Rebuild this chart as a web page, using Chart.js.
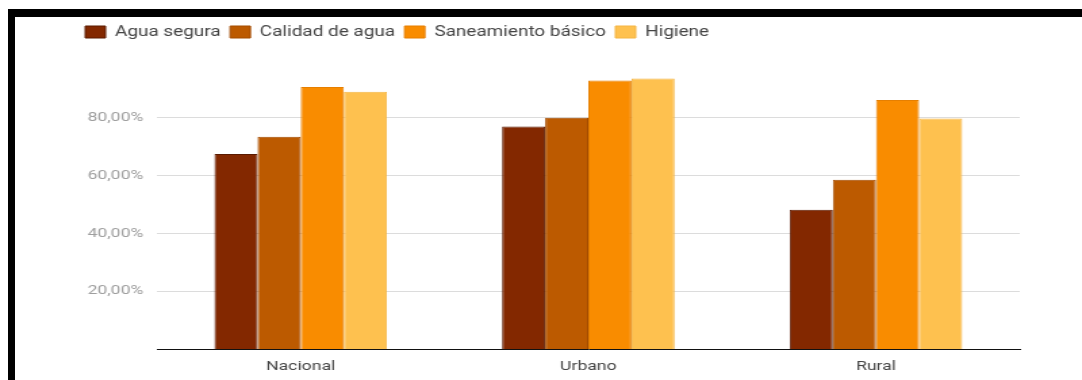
<!DOCTYPE html>
<html>
<head>
<meta charset="utf-8">
<script src="https://cdn.jsdelivr.net/npm/chart.js@4.4.1/dist/chart.umd.min.js"></script>
<style>
  html, body { margin: 0; padding: 0; background: #fff; }
  #wrap { position: relative; width: 1082px; height: 380px; overflow: hidden; }
  #c { position: absolute; left: 0; top: 0; }
  /* black frame around the screenshot */
  #frame {
    position: absolute; left: 8px; top: 9px; right: -10px; bottom: -10px;
    border-top: 8px solid #000; border-left: 7px solid #000;
    pointer-events: none;
  }
</style>
</head>
<body>
<div id="wrap">
  <canvas id="c" width="800" height="380" style="width:1082px;height:380px"></canvas>
  <div id="frame"></div>
</div>
<script>
// data
const categories = ['Nacional', 'Urbano', 'Rural'];
const seriesNames = ['Agua segura', 'Calidad de agua', 'Saneamiento básico', 'Higiene'];
const aguaSegura = [67.5, 77.0, 48.2];
const calidadAgua = [73.4, 80.0, 58.6];
const saneamiento = [90.7, 92.9, 86.2];
const higiene = [89.0, 93.6, 79.8];
const yTicks = [20, 40, 60, 80];

const fillColors = ['#832800', '#bc5a00', '#f98c00', '#fec14f'];
const edgeColors = ['#5a1a00', '#a34c00', '#e67f00', '#f4b544'];

const FONT = 'Roboto, "Liberation Sans", Arial, sans-serif';
const LEGEND_GAP = 11;

// extra room under the legend
const legendGap = {
    id: 'legendGap',
    beforeUpdate(chart) {
        const lg = chart.legend;
        if (lg && !lg._gapPatched) {
            const fit = lg.fit;
            lg.fit = function() {
                fit.call(this);
                this.height += LEGEND_GAP;
            };
            lg._gapPatched = true;
        }
    }
};

const values = [aguaSegura, calidadAgua, saneamiento, higiene];

new Chart(document.getElementById('c'), {
    type: 'bar',
    data: {
        labels: categories,
        datasets: seriesNames.map((name, i) => ({
            label: name,
            data: values[i],
            backgroundColor: fillColors[i],
            borderColor: edgeColors[i],
            borderWidth: 1,
            categoryPercentage: 0.6,
            barPercentage: 1.0
        }))
    },
    options: {
        responsive: false,
        devicePixelRatio: 1,
        animation: false,
        layout: {
            padding: { left: 56, right: 46, top: 18, bottom: 6 }
        },
        scales: {
            x: {
                afterFit: function(scale) {
                    scale.height = 25;
                },
                grid: { display: false, drawTicks: false },
                border: { display: true, color: '#111', width: 1 },
                ticks: {
                    color: '#444',
                    padding: 10,
                    font: { family: FONT, size: 13 }
                }
            },
            y: {
                min: 0,
                max: 100,
                afterBuildTicks: function(scale) {
                    scale.ticks = yTicks.map(v => ({ value: v }));
                },
                afterFit: function(scale) {
                    scale.width = 60;
                },
                grid: { color: '#dcdcdc', lineWidth: 1, drawTicks: false },
                border: { display: false },
                ticks: {
                    color: '#9e9e9e',
                    padding: 10,
                    font: { family: FONT, size: 13 },
                    callback: function(value) {
                        return value.toFixed(2).replace('.', ',') + '%';
                    }
                }
            }
        },
        plugins: {
            legend: {
                position: 'top',
                align: 'start',
                labels: {
                    boxWidth: 15,
                    boxHeight: 12,
                    padding: 7,
                    color: '#444',
                    font: { family: FONT, size: 14 }
                }
            },
            tooltip: { enabled: false }
        }
    },
    plugins: [legendGap]
});
</script>
</body>
</html>
